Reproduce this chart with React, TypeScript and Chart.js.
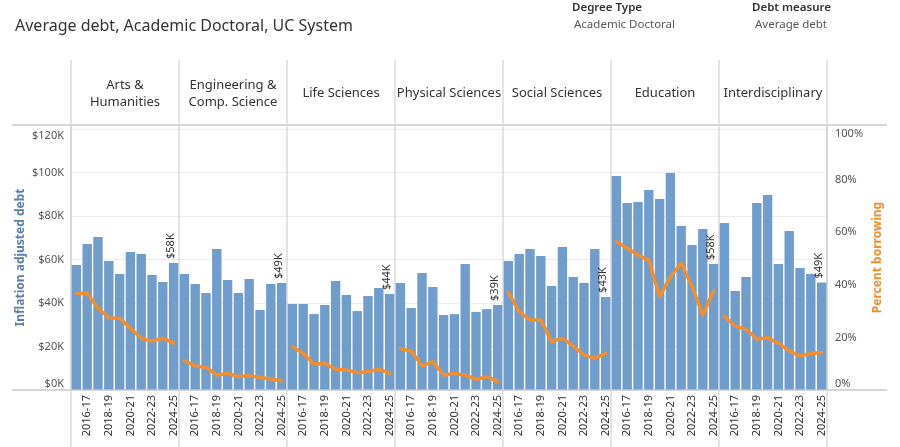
import React, { useEffect, useRef } from 'react';
import { Chart, registerables } from 'chart.js';
Chart.register(...registerables);

const FONT = "'Noto Sans', 'Open Sans', sans-serif";

const fields = [
  ['Arts &', 'Humanities'],
  ['Engineering &', 'Comp. Science'],
  ['Life Sciences'],
  ['Physical Sciences'],
  ['Social Sciences'],
  ['Education'],
  ['Interdisciplinary'],
];

const years = ['2015-16', '2016-17', '2017-18', '2018-19', '2019-20', '2020-21', '2021-22', '2022-23', '2023-24', '2024-25'];

// Inflation adjusted average debt, $K
const artsDebt = [57.5, 67.1, 70.3, 59.3, 53.3, 63.4, 62.5, 52.9, 49.7, 58.4];
const engDebt = [53.3, 48.7, 44.6, 64.8, 50.6, 44.6, 51.0, 36.8, 48.7, 49.2];
const lifeDebt = [39.5, 39.5, 34.9, 39.1, 50.1, 43.7, 36.3, 43.2, 46.9, 44.1];
const physDebt = [49.2, 37.7, 53.8, 47.4, 34.5, 34.9, 57.9, 35.9, 37.2, 39.1];
const socDebt = [59.3, 62.5, 64.8, 61.6, 47.8, 65.7, 52.0, 49.2, 64.8, 42.8];
const eduDebt = [98.4, 86.0, 86.4, 92.0, 87.8, 99.8, 75.4, 66.7, 74.0, 57.9];
const interDebt = [76.8, 45.5, 52.0, 86.0, 89.7, 57.9, 73.1, 56.1, 53.3, 49.4];

// Percent borrowing, %
const artsPct = [36.8, 36.8, 31.1, 27.5, 27.3, 23.5, 19.7, 18.6, 19.7, 17.8];
const engPct = [11.1, 9.1, 8.6, 5.7, 6.3, 5.1, 5.4, 4.8, 4.2, 3.5];
const lifePct = [16.5, 13.9, 9.9, 10.1, 7.9, 7.6, 6.6, 7.0, 7.9, 6.3];
const physPct = [15.7, 14.8, 9.2, 10.8, 5.7, 6.3, 5.6, 4.1, 5.1, 3.2];
const socPct = [37.1, 29.8, 26.6, 26.6, 18.4, 19.7, 16.7, 13.3, 12.0, 13.9];
const eduPct = [56.4, 53.9, 51.3, 49.4, 35.5, 43.1, 48.2, 39.3, 28.5, 37.8];
const interPct = [28.1, 24.3, 23.1, 19.4, 19.9, 17.8, 14.9, 13.0, 13.9, 14.3];

const debtTicks = [0, 20, 40, 60, 80, 100, 120];
const pctTicks = [0, 20, 40, 60, 80, 100];

const debtSeries = [artsDebt, engDebt, lifeDebt, physDebt, socDebt, eduDebt, interDebt];
const pctSeries = [artsPct, engPct, lifePct, physPct, socPct, eduPct, interPct];

const BLUE = '#719dcc';
const ORANGE = '#f28e2b';
const N = years.length;

const labels = fields.flatMap((f) => years.map((y) => f.join(' ') + ' ' + y));

// keep edge tick labels inside the plot (as Tableau does)
const edgeLabel = (text: string, isFirst: boolean, isLast: boolean): any => {
  if (isFirst) return [text, ''];
  if (isLast) return ['', text];
  return text;
};

const decorPlugin = {
  id: 'decor',
  beforeDraw(chart: any) {
    const { ctx } = chart;
    ctx.save();
    ctx.fillStyle = '#ffffff';
    ctx.fillRect(0, 0, chart.width, chart.height);
    ctx.restore();
  },
  beforeDatasetsDraw(chart: any) {
    const { ctx, chartArea } = chart;
    const xs = chart.scales.x;
    const bounds: number[] = [chartArea.left];
    for (let k = 1; k < fields.length; k++) {
      bounds.push((xs.getPixelForValue(k * N - 1) + xs.getPixelForValue(k * N)) / 2);
    }
    bounds.push(chartArea.right);
    ctx.save();
    ctx.strokeStyle = '#dcdcdc';
    ctx.lineWidth = 1.5;
    bounds.forEach((b) => {
      ctx.beginPath();
      ctx.moveTo(b, 60);
      ctx.lineTo(b, chartArea.top);
      ctx.moveTo(b, chartArea.bottom);
      ctx.lineTo(b, chart.height);
      ctx.stroke();
    });
    ctx.strokeStyle = '#c8c8c8';
    bounds.forEach((b, i) => {
      ctx.beginPath();
      ctx.lineWidth = i === 0 || i === bounds.length - 1 ? 1.5 : 1;
      ctx.moveTo(b, chartArea.top);
      ctx.lineTo(b, chartArea.bottom);
      ctx.stroke();
    });
    ctx.strokeStyle = '#d6d6d6';
    ctx.lineWidth = 2;
    ctx.beginPath();
    ctx.moveTo(12, chartArea.top);
    ctx.lineTo(887, chartArea.top);
    ctx.moveTo(12, chartArea.bottom);
    ctx.lineTo(887, chartArea.bottom);
    ctx.stroke();

    ctx.fillStyle = '#333333';
    ctx.font = `13px ${FONT}`;
    ctx.textAlign = 'center';
    ctx.textBaseline = 'middle';
    fields.forEach((f, i) => {
      const cx = (bounds[i] + bounds[i + 1]) / 2;
      if (f.length === 2) {
        ctx.fillText(f[0], cx, 85);
        ctx.fillText(f[1], cx, 102);
      } else {
        ctx.fillText(f[0], cx, 93);
      }
    });
    ctx.restore();
  },
  afterDatasetsDraw(chart: any) {
    const { ctx } = chart;
    const meta = chart.getDatasetMeta(0);
    ctx.save();
    ctx.fillStyle = '#333333';
    ctx.font = `11px ${FONT}`;
    ctx.textAlign = 'left';
    ctx.textBaseline = 'middle';
    fields.forEach((f, i) => {
      const idx = i * N + N - 1;
      const el = meta.data[idx];
      const v = debtSeries[i][N - 1];
      ctx.save();
      ctx.translate(el.x - 3, el.y - 4);
      ctx.rotate(-Math.PI / 2);
      ctx.fillText('$' + Math.round(v) + 'K', 0, 0);
      ctx.restore();
    });
    ctx.restore();
  },
  afterDraw(chart: any) {
    const { ctx, chartArea } = chart;
    const cy = (chartArea.top + chartArea.bottom) / 2;
    ctx.save();
    ctx.fillStyle = '#333333';
    ctx.font = `16px ${FONT}`;
    ctx.textAlign = 'left';
    ctx.textBaseline = 'middle';
    ctx.fillText('Average debt, Academic Doctoral, UC System', 15, 26);
    ctx.font = `600 11.5px ${FONT}`;
    ctx.fillStyle = '#333333';
    ctx.fillText('Degree Type', 572, 8);
    ctx.fillText('Debt measure', 752, 8);
    ctx.font = `11.5px ${FONT}`;
    ctx.fillStyle = '#555555';
    ctx.fillText('Academic Doctoral', 574, 25);
    ctx.fillText('Average debt', 755, 25);
    ctx.font = `bold 12px ${FONT}`;
    ctx.textAlign = 'center';
    ctx.fillStyle = '#5a7fae';
    ctx.save();
    ctx.translate(21, cy);
    ctx.rotate(-Math.PI / 2);
    ctx.fillText('Inflation adjusted debt', 0, 0);
    ctx.restore();
    ctx.fillStyle = ORANGE;
    ctx.save();
    ctx.translate(878, cy);
    ctx.rotate(-Math.PI / 2);
    ctx.fillText('Percent borrowing', 0, 0);
    ctx.restore();
    ctx.restore();
  },
};

export default function App() {
  const ref = useRef<HTMLCanvasElement>(null);
  useEffect(() => {
    document.body.style.margin = '0';
    const canvas = ref.current!;
    const chart = new Chart(canvas, {
      type: 'bar',
      data: {
        labels,
        datasets: [
          {
            type: 'bar',
            label: 'Inflation adjusted debt',
            data: debtSeries.flat(),
            backgroundColor: BLUE,
            borderWidth: 0,
            barPercentage: 0.87,
            categoryPercentage: 1.0,
            yAxisID: 'y',
            order: 2,
          },
          {
            type: 'line',
            label: 'Percent borrowing',
            data: pctSeries.flat(),
            borderColor: ORANGE,
            borderWidth: 3.5,
            pointRadius: 0,
            tension: 0,
            yAxisID: 'y1',
            order: 1,
            borderJoinStyle: 'round',
            borderCapStyle: 'round',
            segment: {
              borderColor: (c: any) => (c.p0DataIndex % N === N - 1 ? 'rgba(0,0,0,0)' : ORANGE),
            },
          } as any,
        ],
      },
      options: {
        responsive: false,
        animation: false,
        layout: { padding: { top: 125, left: 0, right: 0, bottom: 0 } },
        plugins: { legend: { display: false }, tooltip: { enabled: false } },
        scales: {
          x: {
            type: 'category',
            offset: true,
            grid: { display: false, drawTicks: false },
            border: { display: false },
            ticks: {
              autoSkip: false,
              maxRotation: 90,
              minRotation: 90,
              padding: 5,
              color: '#333333',
              font: { family: FONT, size: 11 },
              callback: (_v: any, i: number) => (i % N) % 2 === 1 ? years[i % N] : '',
            },
            afterFit: (s: any) => { s.height = 57; },
          },
          y: {
            type: 'linear',
            position: 'left',
            min: 0,
            max: 121.84,
            grid: { color: '#ececec', lineWidth: 1, drawTicks: false },
            border: { display: false },
            ticks: {
              padding: 7,
              color: '#555555',
              font: { family: FONT, size: 11 },
              callback: (v: any, i: number, t: any[]) => edgeLabel('$' + v + 'K', i === 0, i === t.length - 1),
            },
            afterBuildTicks: (s: any) => { s.ticks = debtTicks.map((v) => ({ value: v })); },
            afterFit: (s: any) => { s.width = 71; },
          },
          y1: {
            type: 'linear',
            position: 'right',
            min: 0,
            max: 100.76,
            grid: { drawOnChartArea: false, drawTicks: false },
            border: { display: false },
            ticks: {
              padding: 8,
              color: '#555555',
              font: { family: FONT, size: 11 },
              callback: (v: any, i: number, t: any[]) => edgeLabel(v + '%', i === 0, i === t.length - 1),
            },
            afterBuildTicks: (s: any) => { s.ticks = pctTicks.map((v) => ({ value: v })); },
            afterFit: (s: any) => { s.width = 73; },
          },
        },
      },
      plugins: [decorPlugin],
    });
    return () => chart.destroy();
  }, []);
  return (
    <div style={{ width: 900, height: 447 }}>
      <canvas ref={ref} width={900} height={447} style={{ display: 'block' }} />
    </div>
  );
}
